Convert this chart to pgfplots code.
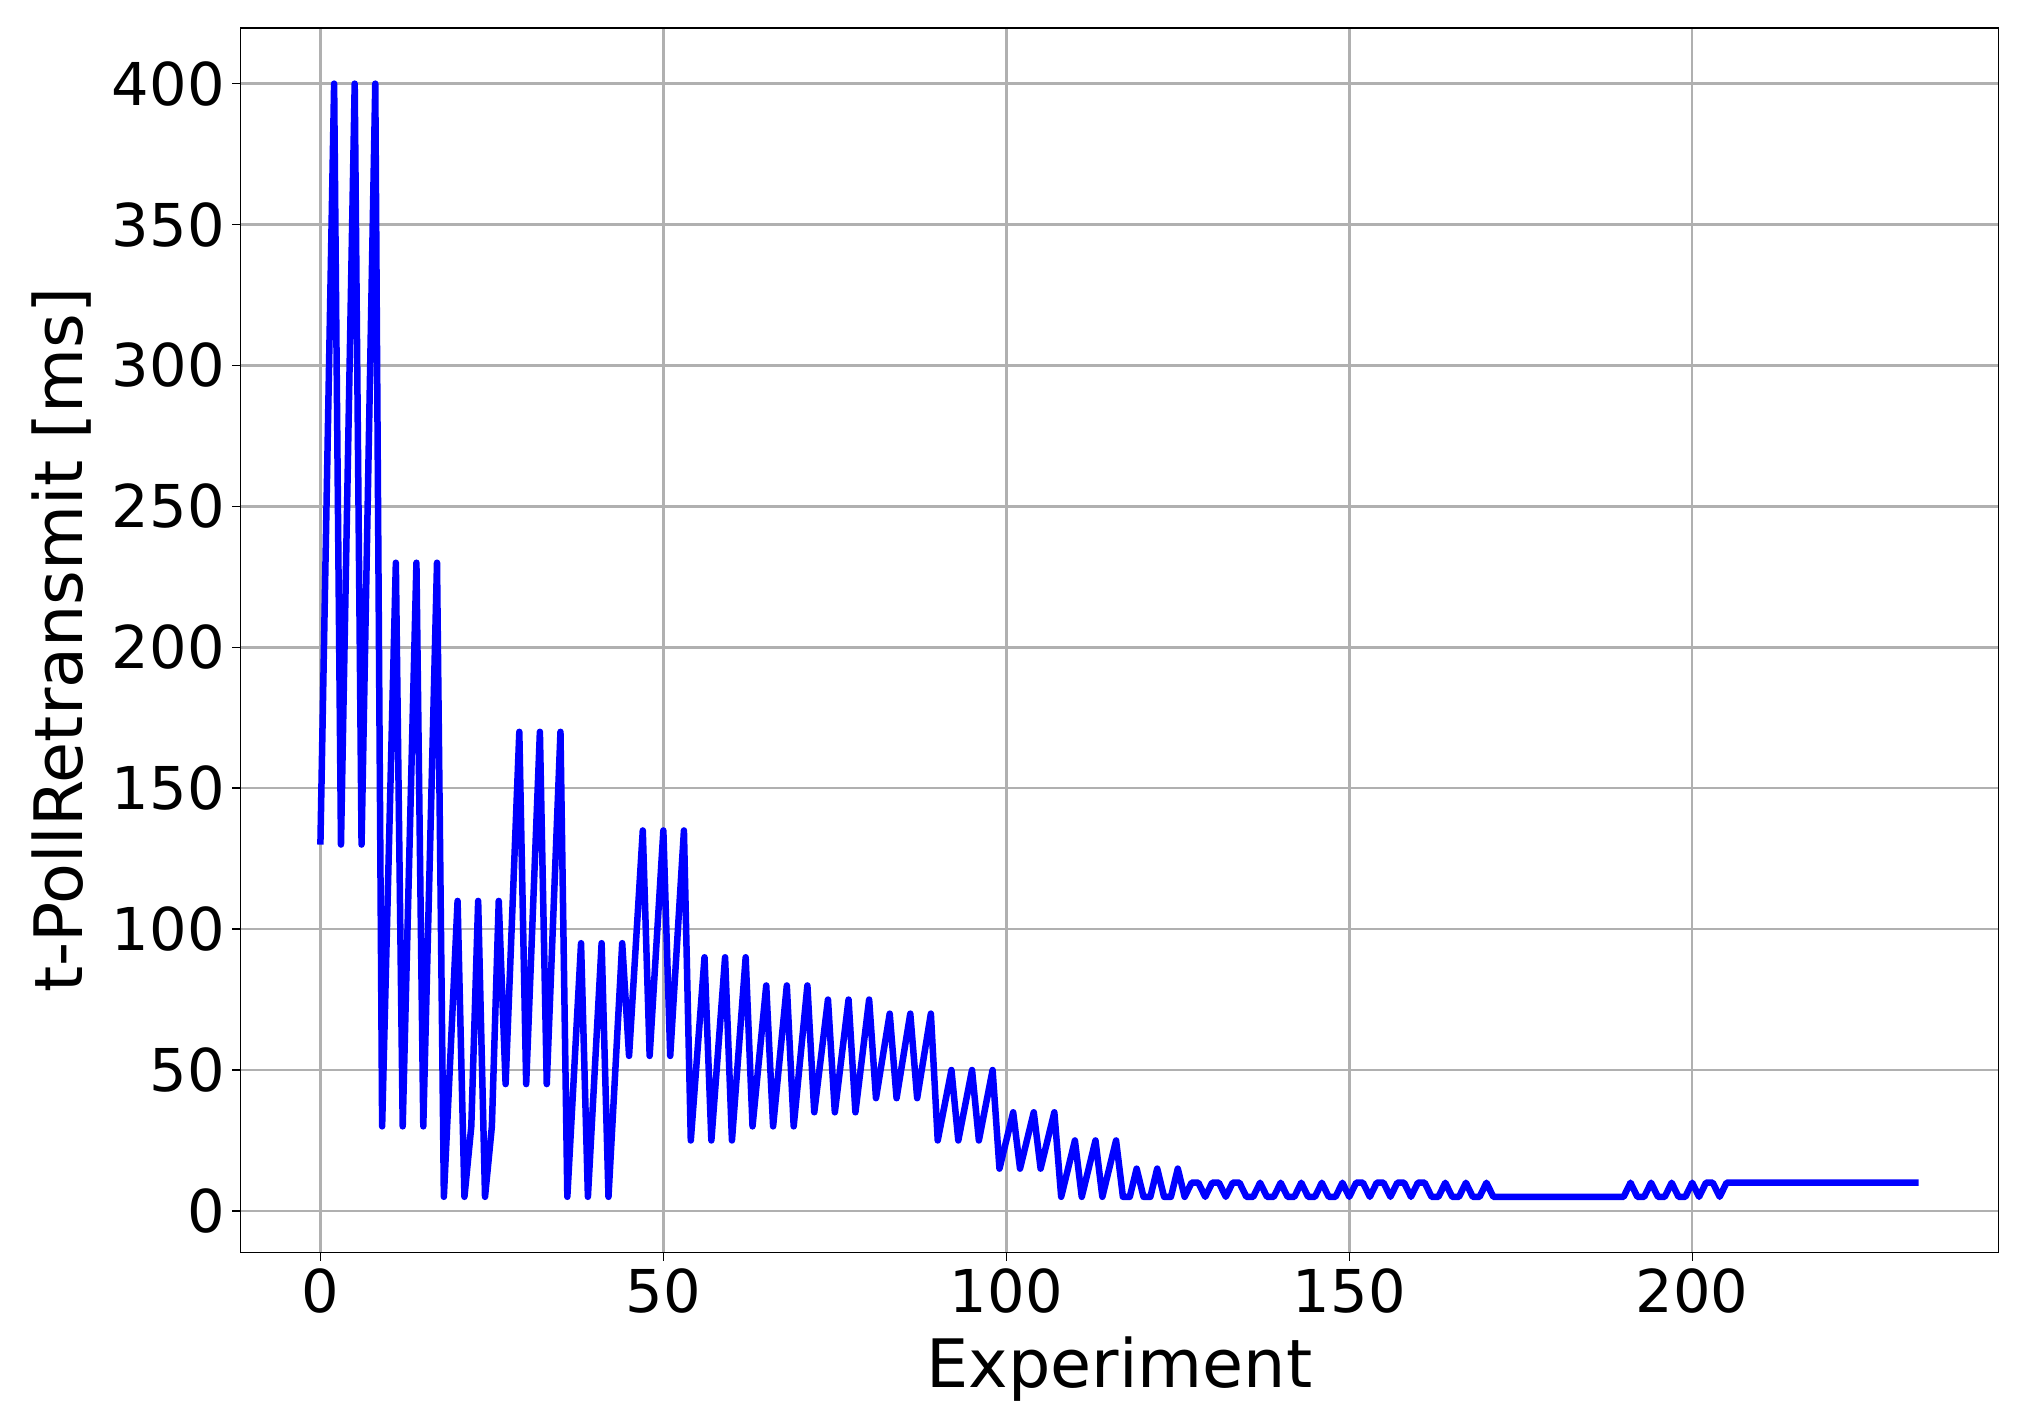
\documentclass[border=0pt]{standalone}
\usepackage{fontspec}
\setmainfont{DejaVu Sans}
\usepackage{pgfplots}
\usepackage{pgfplotstable}
\pgfplotsset{compat=1.18}
\definecolor{gridgray}{HTML}{B0B0B0}
\definecolor{lineblue}{HTML}{0000FF}
\pgfplotstableread{
x y
0 130
2 400
3 130
5 400
6 130
8 400
9 30
11 230
12 30
14 230
15 30
17 230
18 5
20 110
21 5
22 30
23 110
24 5
25 30
26 110
27 45
29 170
30 45
32 170
33 45
35 170
36 5
38 95
39 5
41 95
42 5
44 95
45 55
47 135
48 55
50 135
51 55
53 135
54 25
56 90
57 25
59 90
60 25
62 90
63 30
65 80
66 30
68 80
69 30
71 80
72 35
74 75
75 35
77 75
78 35
80 75
81 40
83 70
84 40
86 70
87 40
89 70
90 25
92 50
93 25
95 50
96 25
98 50
99 15
101 35
102 15
104 35
105 15
107 35
108 5
110 25
111 5
113 25
114 5
116 25
117 5
118 5
119 15
120 5
121 5
122 15
123 5
124 5
125 15
126 5
127 10
128 10
129 5
130 10
131 10
132 5
133 10
134 10
135 5
136 5
137 10
138 5
139 5
140 10
141 5
142 5
143 10
144 5
145 5
146 10
147 5
148 5
149 10
150 5
151 10
152 10
153 5
154 10
155 10
156 5
157 10
158 10
159 5
160 10
161 10
162 5
163 5
164 10
165 5
166 5
167 10
168 5
169 5
170 10
171 5
190 5
191 10
192 5
193 5
194 10
195 5
196 5
197 10
198 5
199 5
200 10
201 5
202 10
203 10
204 5
205 10
233 10
}\datatable
\begin{document}
\begin{tikzpicture}
\begin{axis}[
  scale only axis,
  width=17.58cm, height=12.245cm,
  xmin=-11.65, xmax=244.65,
  ymin=-14.75, ymax=419.75,
  xtick={0,50,100,150,200},
  ytick={0,50,100,150,200,250,300,350,400},
  xtick pos=left, ytick pos=left,
  tick align=outside,
  major tick length=0.083cm,
  tick style={black, line width=0.4pt},
  axis line style={black, line width=0.4pt},
  grid=major,
  major grid style={gridgray, line width=0.7pt},
  /pgf/number format/assume math mode=true,
  /pgf/number format/1000 sep={},
  ticklabel style={font=\fontsize{16.8}{20}\selectfont, inner sep=0pt},
  xticklabel style={anchor=north, yshift=-0.075cm},
  yticklabel style={anchor=east, xshift=-0.068cm},
  xlabel={Experiment},
  ylabel={t-PollRetransmit [ms]},
  label style={font=\fontsize{19}{23}\selectfont},
  xlabel style={at={(axis description cs:0.5,-0.11025)}, anchor=base},
  ylabel style={at={(axis description cs:-0.10154,0.5)}, anchor=center},
]
\addplot[lineblue, line width=1.85pt, line join=round] table[x=x, y=y] {\datatable};
\end{axis}
\pgfresetboundingbox
\path (-2.405,-1.685) rectangle (17.815,12.525);
\end{tikzpicture}
\end{document}
